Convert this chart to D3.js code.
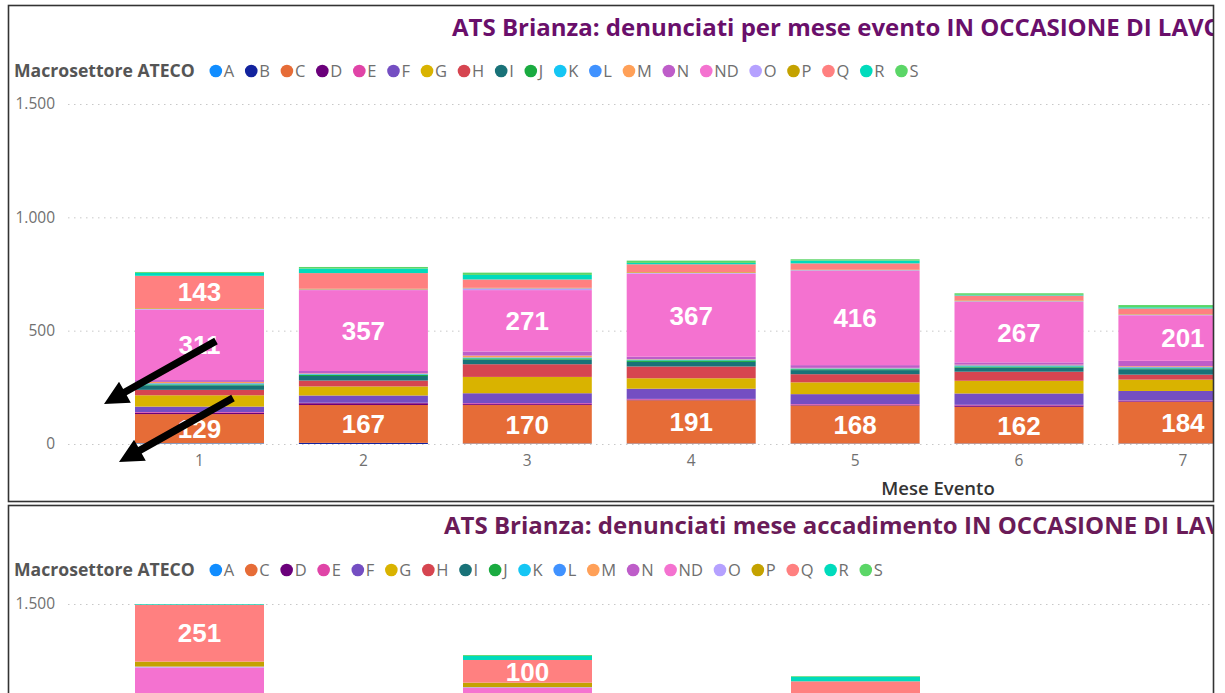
<!DOCTYPE html>
<html><head><meta charset="utf-8">
<script src="https://cdn.jsdelivr.net/npm/d3@7"></script>
<style>body{margin:0;background:#fff}svg{display:block}</style>
</head><body><svg id="c" width="1225" height="693"></svg>
<script>
// ---------- DATA ----------
const seriesKeys = ["A","B","C","D","E","F","G","H","I","J","K","L","M","N","ND","O","P","Q","R","S"];
const seriesColors = ["#118DFF","#12239E","#E66C37","#6B007B","#E044A7","#744EC2","#D9B300","#D64550","#197278","#1AAB40","#15C6F4","#4092FF","#FFA058","#BE5DC9","#F472D0","#B5A1FF","#C4A200","#FF8080","#00DBBC","#5BD667"];
const yTickValues = [0, 500, 1000, 1500];

// Top chart: denunciati per mese evento
const meseEvento = ["1","2","3","4","5","6","7"];
const ev_A  = [3, 0, 2, 2, 2, 2, 2];
const ev_B  = [0, 5, 0, 0, 0, 0, 0];
const ev_C  = [129, 167, 170, 191, 168, 162, 184];
const ev_D  = [6, 8, 4, 3, 3, 6, 3];
const ev_E  = [3, 2, 4, 3, 3, 3, 3];
const ev_F  = [24, 32, 44, 45, 44, 50, 42];
const ev_G  = [50, 40, 72, 46, 52, 56, 50];
const ev_H  = [24, 26, 56, 52, 36, 40, 22];
const ev_I  = [20, 20, 20, 20, 18, 18, 24];
const ev_J  = [4, 6, 6, 7, 4, 5, 4];
const ev_K  = [2, 2, 2, 2, 2, 2, 2];
const ev_L  = [3, 2, 2, 2, 2, 3, 3];
const ev_M  = [6, 2, 8, 2, 2, 3, 4];
const ev_N  = [8, 10, 18, 10, 12, 10, 24];
const ev_ND = [311, 357, 271, 367, 416, 267, 201];
const ev_O  = [3, 3, 8, 3, 3, 3, 3];
const ev_P  = [3, 3, 2, 3, 2, 3, 2];
const ev_Q  = [143, 69, 37, 35, 28, 22, 25];
const ev_R  = [13, 20, 20, 6, 12, 3, 5];
const ev_S  = [4, 7, 10, 10, 6, 7, 10];

// Bottom chart: denunciati mese accadimento (only the top of the bars is visible)
const meseAccadimento = ["1","2","3"];
const bottomKeys = ["A","C","D","E","F","G","H","I","J","K","L","M","N","ND","O","P","Q","R","S"];
const ac_A  = [4, 2, 3];
const ac_C  = [196, 172, 188];
const ac_D  = [6, 4, 5];
const ac_E  = [3, 2, 4];
const ac_F  = [48, 41, 46];
const ac_G  = [62, 50, 57];
const ac_H  = [41, 47, 39];
const ac_I  = [26, 22, 24];
const ac_J  = [6, 4, 5];
const ac_K  = [2, 2, 3];
const ac_L  = [3, 2, 3];
const ac_M  = [5, 6, 4];
const ac_N  = [22, 18, 21];
const ac_ND = [796, 758, 651];
const ac_O  = [4, 3, 3];
const ac_P  = [22, 20, 18];
const ac_Q  = [251, 100, 85];
const ac_R  = [3, 18, 20];
const ac_S  = [0, 4, 3];

// ---------- BUILD TABLES ----------
const evSeries = {A:ev_A,B:ev_B,C:ev_C,D:ev_D,E:ev_E,F:ev_F,G:ev_G,H:ev_H,I:ev_I,J:ev_J,K:ev_K,L:ev_L,M:ev_M,N:ev_N,ND:ev_ND,O:ev_O,P:ev_P,Q:ev_Q,R:ev_R,S:ev_S};
const acSeries = {A:ac_A,C:ac_C,D:ac_D,E:ac_E,F:ac_F,G:ac_G,H:ac_H,I:ac_I,J:ac_J,K:ac_K,L:ac_L,M:ac_M,N:ac_N,ND:ac_ND,O:ac_O,P:ac_P,Q:ac_Q,R:ac_R,S:ac_S};
function table(cats, keys, src){
  return cats.map((c,i)=>{const r={cat:c}; keys.forEach(k=>r[k]=src[k][i]); return r;});
}
const color = d3.scaleOrdinal().domain(seriesKeys).range(seriesColors);
const fmt = d3.formatLocale({decimal:",",thousands:".",grouping:[3],currency:["€",""]}).format(",d");

const W = 1225, H = 693;
const svg = d3.select("#c");
const FONT = "'Open Sans','Noto Sans',sans-serif";

function bandScale(domain, firstStart, step, bw){
  const pi = 1 - bw/step, po = 0.5;
  const r0 = firstStart - po*step;
  const r1 = r0 + step*(domain.length - pi + 2*po);
  return d3.scaleBand().domain(domain).range([r0, r1]).paddingInner(pi).paddingOuter(po);
}

function drawPanel(o){
  const g = svg.append("g");
  const clipId = "clip"+o.id;
  const visBottom = Math.min(o.top + o.height, H);
  svg.append("defs").append("clipPath").attr("id", clipId)
    .append("rect").attr("x", 9).attr("y", o.top+1).attr("width", 1204).attr("height", o.height-2);
  const c = g.append("g").attr("clip-path", `url(#${clipId})`);

  // title
  c.append("text").attr("x", o.titleX).attr("y", o.top+o.titleDy)
    .attr("font-family", FONT).attr("font-weight", 700).attr("font-size", 24)
    .attr("fill", o.titleColor).text(o.title);

  // legend
  const lg = c.append("g").attr("transform", `translate(0,${o.top+o.legendDy})`);
  const lt = lg.append("text").attr("x", 14).attr("y", 0)
    .attr("font-family", FONT).attr("font-weight", 700).attr("font-size", 17.6)
    .attr("fill", "#555").text("Macrosettore ATECO");
  let cx = 14 + lt.node().getComputedTextLength() + 21;
  o.legendKeys.forEach(k=>{
    lg.append("circle").attr("cx", cx).attr("cy", -6).attr("r", 6.3).attr("fill", color(k));
    const t = lg.append("text").attr("x", cx+8).attr("y", 0)
      .attr("font-family", FONT).attr("font-size", 16.5).attr("fill", "#6f6f6f").text(k);
    cx = cx + 8 + t.node().getComputedTextLength() + 17;
  });

  // scales
  const y = d3.scaleLinear().domain([0,1500]).range([o.top+439, o.top+99]);
  const x = bandScale(o.cats, o.firstStart, o.step, 129);

  // y axis with dotted grid (only ticks inside the visible part)
  const ticks = yTickValues.filter(v => y(v) < visBottom - 10);
  const ya = c.append("g").attr("transform", "translate(68,0)")
    .call(d3.axisLeft(y).tickValues(ticks).tickFormat(fmt).tickSize(-(1213-68)).tickPadding(13));
  ya.select(".domain").remove();
  ya.selectAll(".tick line").attr("stroke", "#c8c8c8").attr("stroke-dasharray", "1.5,4.5");
  ya.selectAll(".tick text").attr("font-family", FONT).attr("font-size", 15.5).attr("fill", "#707070");

  // stacked bars
  const data = table(o.cats, o.keys, o.src);
  const stacked = d3.stack().keys(o.keys)(data);
  const layers = c.append("g").selectAll("g").data(stacked).join("g").attr("fill", d=>color(d.key));
  layers.selectAll("rect").data(d=>d.map(p=>({p, key:d.key}))).join("rect")
    .attr("x", d=>x(d.p.data.cat)).attr("width", x.bandwidth())
    .attr("y", d=>y(d.p[1])).attr("height", d=>y(d.p[0])-y(d.p[1]));

  // data labels (segments tall enough, and inside the visible area)
  const labs = [];
  stacked.forEach(s=>s.forEach(p=>{
    const h = y(p[0]) - y(p[1]);
    const mid = (y(p[0])+y(p[1]))/2;
    if (h >= 20 && mid < visBottom - 12) labs.push({cat:p.data.cat, v:p[1]-p[0], mid});
  }));
  c.append("g").selectAll("text").data(labs).join("text")
    .attr("x", d=>x(d.cat)+x.bandwidth()/2).attr("y", d=>d.mid).attr("dy", "0.36em")
    .attr("text-anchor", "middle").attr("font-family", "'Liberation Sans',Arial,sans-serif")
    .attr("font-weight", 700).attr("font-size", 26).attr("fill", "#fff").text(d=>fmt(d.v));

  // x axis
  if (o.top + 439 + 25 < visBottom){
    const xa = c.append("g").attr("transform", `translate(0,${o.top+439})`)
      .call(d3.axisBottom(x).tickSize(0).tickPadding(11));
    xa.select(".domain").remove();
    xa.selectAll(".tick text").attr("font-family", FONT).attr("font-size", 15.5).attr("fill", "#707070");
  }

  if (o.xTitle){
    c.append("text").attr("x", 938).attr("y", o.top+490).attr("text-anchor", "middle")
      .attr("font-family", FONT).attr("font-weight", 600).attr("font-size", 18.5)
      .attr("fill", "#333").text(o.xTitle);
  }

  // frame
  g.append("rect").attr("x", 8.5).attr("y", o.top+0.5).attr("width", 1205).attr("height", o.height-1)
    .attr("fill", "none").attr("stroke", "#333").attr("stroke-width", 1.6);
}

drawPanel({id:1, top:5, height:497, titleX:452, titleDy:31, legendDy:72, titleColor:"#6a0f6b",
  title:"ATS Brianza: denunciati per mese evento IN OCCASIONE DI LAVORO",
  legendKeys:seriesKeys, keys:seriesKeys, cats:meseEvento, src:evSeries,
  firstStart:135, step:163.9, xTitle:"Mese Evento"});

drawPanel({id:2, top:505, height:200, titleX:444, titleDy:29, legendDy:71, titleColor:"#6a1b58",
  title:"ATS Brianza: denunciati mese accadimento IN OCCASIONE DI LAVORO",
  legendKeys:bottomKeys, keys:bottomKeys, cats:meseAccadimento, src:acSeries,
  firstStart:135, step:328, xTitle:null});

// annotation arrows
function arrow(x1,y1,x2,y2){
  const L = Math.hypot(x2-x1,y2-y1), ux=(x2-x1)/L, uy=(y2-y1)/L, nx=-uy, ny=ux;
  const w=3.6, hl=24, hw=12;
  const bx=x2-ux*hl, by=y2-uy*hl;
  const pts=[[x1+nx*w,y1+ny*w],[bx+nx*w,by+ny*w],[bx+nx*hw,by+ny*hw],[x2,y2],
             [bx-nx*hw,by-ny*hw],[bx-nx*w,by-ny*w],[x1-nx*w,y1-ny*w]];
  svg.append("polygon").attr("points", pts.map(p=>p.join(",")).join(" ")).attr("fill","#000");
}
arrow(216,341,104,404);
arrow(233,398,119,462);
</script></body></html>
